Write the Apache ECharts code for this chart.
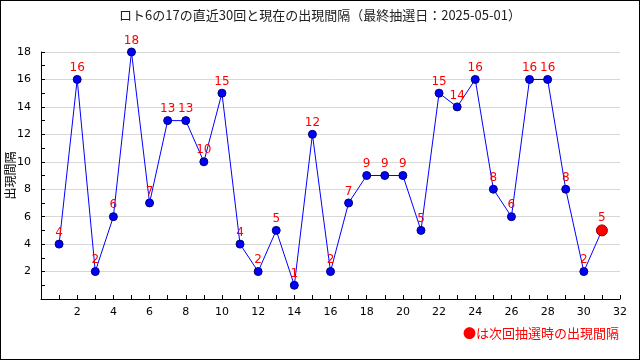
<!DOCTYPE html>
<html><head><meta charset="utf-8">
<script src="https://cdn.jsdelivr.net/npm/echarts@6/dist/echarts.min.js"></script>
<style>
html,body{margin:0;padding:0;background:#fff;}
#c{width:640px;height:360px;box-sizing:border-box;border:1px solid #000;}
</style></head><body>
<div id="c"></div>
<script>
const titleText = 'ロト6の17の直近30回と現在の出現間隔（最終抽選日：2025-05-01）';
const yName = '出現間隔';
const noteText = '●は次回抽選時の出現間隔';
const draws = [1,2,3,4,5,6,7,8,9,10,11,12,13,14,15,16,17,18,19,20,21,22,23,24,25,26,27,28,29,30,31];
const gaps  = [4,16,2,6,18,7,13,13,10,15,4,2,5,1,12,2,7,9,9,9,5,15,14,16,8,6,16,16,8,2,5];

const chart = echarts.init(document.getElementById('c'));
const font = '"Noto Sans CJK JP", sans-serif';
const data = draws.map((d, i) => {
  const item = { value: [d, gaps[i]] };
  if (i === draws.length - 1) {
    item.symbolSize = 11;
    item.itemStyle = { color: '#ff0000', borderColor: '#900000', borderWidth: 1 };
  }
  return item;
});
chart.setOption({
  animation: false,
  title: {
    text: titleText, left: 'center', top: 3,
    textStyle: { fontSize: 13, fontWeight: 'normal', color: '#222', fontFamily: font }
  },
  graphic: [{
    type: 'text', right: 20, top: 326,
    style: { text: noteText, fill: '#ff0000', fontSize: 13, fontFamily: font }
  }],
  grid: { left: 40, right: 19, top: 51, bottom: 60, containLabel: false, outerBoundsMode: 'none' },
  xAxis: {
    type: 'value', min: 0, max: 32, interval: 2,
    axisLine: { lineStyle: { color: '#000', width: 1 } },
    axisTick: { inside: true, length: 4, lineStyle: { color: '#000' } },
    minorTick: { show: true, splitNumber: 2, length: 4, lineStyle: { color: '#000' } },
    splitLine: { show: false },
    axisLabel: { color: '#000', fontSize: 11, margin: 8, fontFamily: 'DejaVu Sans',
      formatter: v => v === 0 ? '' : String(v) }
  },
  yAxis: {
    type: 'value', min: 0, max: 18, interval: 2,
    name: yName, nameLocation: 'middle', nameGap: 25, nameMoveOverlap: false,
    nameTextStyle: { color: '#000', fontSize: 12, fontFamily: font },
    axisLine: { show: true, lineStyle: { color: '#000', width: 1 } },
    axisTick: { show: true, inside: true, length: 4, lineStyle: { color: '#000' } },
    minorTick: { show: true, splitNumber: 2, length: 4, lineStyle: { color: '#000' } },
    splitLine: { show: true, lineStyle: { color: '#d8d8d8', width: 1 } },
    axisLabel: { color: '#000', fontSize: 11, margin: 10, fontFamily: 'DejaVu Sans',
      formatter: v => v === 0 ? '' : String(v) }
  },
  series: [{
    type: 'line', data: data,
    symbol: 'circle', symbolSize: 8,
    lineStyle: { color: '#0000ff', width: 1 },
    itemStyle: { color: '#0000ff', borderColor: '#000070', borderWidth: 1 },
    label: { show: true, position: 'top', distance: 1, color: '#ff0000', fontSize: 12, fontFamily: 'DejaVu Sans',
      formatter: p => String(p.value[1]) }
  }]
});
</script>
</body></html>
